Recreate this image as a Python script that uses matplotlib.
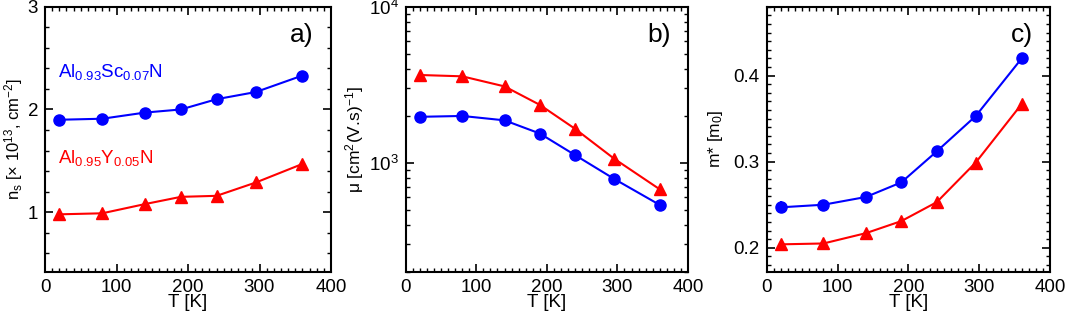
import matplotlib
matplotlib.use("Agg")
import matplotlib.pyplot as plt
from matplotlib.ticker import MultipleLocator, LogLocator, NullFormatter

plt.rcParams['font.family'] = ['Liberation Sans', 'DejaVu Sans']
plt.rcParams['mathtext.fontset'] = 'custom'
plt.rcParams['mathtext.rm'] = 'Liberation Sans'
plt.rcParams['mathtext.it'] = 'Liberation Sans'

T = [20, 80, 140, 190, 240, 295, 360]
ns_sc = [1.90, 1.91, 1.97, 2.00, 2.10, 2.17, 2.33]
ns_y = [0.98, 0.99, 1.08, 1.15, 1.16, 1.29, 1.47]
mu_sc = [1970, 1995, 1870, 1540, 1120, 790, 537]
mu_y = [3650, 3580, 3085, 2350, 1650, 1065, 676]
m_sc = [0.247, 0.250, 0.259, 0.276, 0.312, 0.353, 0.420]
m_y = [0.204, 0.205, 0.217, 0.231, 0.253, 0.299, 0.367]
m_sc_err = [0.007, 0, 0, 0, 0, 0, 0]

blue = '#0000ff'
red = '#ff0000'

fig = plt.figure(figsize=(10.65, 3.18), dpi=100)
ax_a = fig.add_axes([0.0423, 0.145, 0.2685, 0.834])
ax_b = fig.add_axes([0.381, 0.145, 0.265, 0.834])
ax_c = fig.add_axes([0.720, 0.145, 0.266, 0.834])

fs = 13.5
for ax in (ax_a, ax_b, ax_c):
    ax.set_xlim(0, 400)
    ax.xaxis.set_major_locator(MultipleLocator(100))
    ax.xaxis.set_minor_locator(MultipleLocator(10))
    ax.tick_params(which='both', direction='in', top=True, right=True, labelsize=fs)
    ax.tick_params(which='major', length=6, width=1.2, pad=5)
    ax.tick_params(which='minor', length=3, width=1.0)
    for s in ax.spines.values():
        s.set_linewidth(1.5)
    ax.set_xlabel('T [K]', fontsize=fs, labelpad=-1)

ms = 8
# a)
ax_a.plot(T, ns_sc, '-o', color=blue, ms=ms, lw=1.5)
ax_a.plot(T, ns_y, '-^', color=red, ms=ms, lw=1.5)
ax_a.set_ylim(0.42, 3)
ax_a.yaxis.set_major_locator(MultipleLocator(1))
ax_a.yaxis.set_minor_locator(MultipleLocator(0.2))
ax_a.set_ylabel(r'n$_\mathregular{s}$ [$\times$ 10$^{\mathregular{13}}$, cm$^{\mathregular{-2}}$]', fontsize=12)
ax_a.yaxis.set_label_coords(-0.07, 0.5)
ax_a.text(0.94, 0.895, 'a)', transform=ax_a.transAxes, fontsize=19, ha='right', va='center')
ax_a.text(0.045, 0.755, r'Al$_\mathregular{0.93}$Sc$_\mathregular{0.07}$N', transform=ax_a.transAxes,
          color=blue, fontsize=fs, ha='left', va='center')
ax_a.text(0.045, 0.43, r'Al$_\mathregular{0.95}$Y$_\mathregular{0.05}$N', transform=ax_a.transAxes,
          color=red, fontsize=fs, ha='left', va='center')

# b)
ax_b.plot(T, mu_sc, '-o', color=blue, ms=ms, lw=1.5)
ax_b.plot(T, mu_y, '-^', color=red, ms=ms, lw=1.5)
ax_b.set_yscale('log')
ax_b.set_ylim(200, 10000)
ax_b.yaxis.set_major_locator(LogLocator(base=10))
ax_b.yaxis.set_minor_locator(LogLocator(base=10, subs=range(2, 10)))
ax_b.yaxis.set_minor_formatter(NullFormatter())
ax_b.set_ylabel(r'$\mu$ [cm$^{\mathregular{2}}$(V.s)$^{\mathregular{-1}}$]', fontsize=12.5, labelpad=2)
ax_b.text(0.94, 0.895, 'b)', transform=ax_b.transAxes, fontsize=19, ha='right', va='center')

# c)
ax_c.errorbar(T, m_sc, yerr=m_sc_err, fmt='-o', color=blue, ms=ms, lw=1.5, elinewidth=1.5, capsize=0)
ax_c.plot(T, m_y, '-^', color=red, ms=ms, lw=1.5)
ax_c.set_ylim(0.172, 0.48)
ax_c.yaxis.set_major_locator(MultipleLocator(0.1))
ax_c.yaxis.set_minor_locator(MultipleLocator(0.01))
ax_c.set_ylabel(r'm* [m$_\mathregular{0}$]', fontsize=12.5, labelpad=6)
ax_c.text(0.94, 0.895, 'c)', transform=ax_c.transAxes, fontsize=19, ha='right', va='center')

fig.savefig('out.png', dpi=100)
